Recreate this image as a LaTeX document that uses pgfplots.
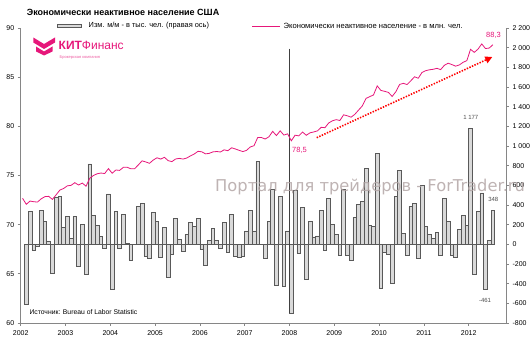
\documentclass[border=0pt]{standalone}
\usepackage{pgfplots}
\usepackage{pgfplotstable}
\pgfplotsset{compat=1.18}
\usepackage{fontspec}
\setmainfont{Liberation Sans}
\newfontfamily\wmfont{DejaVu Sans}
\usetikzlibrary{arrows.meta}
\definecolor{pinkline}{HTML}{E6177A}
\definecolor{barfill}{HTML}{D9D9D9}
\definecolor{baredge}{HTML}{595959}
\definecolor{axgray}{HTML}{868686}
\definecolor{wm}{HTML}{B3A6A6}

\pgfplotstableread{
m v
1 -610
2 336
3 -58
4 -20
5 346
6 234
7 34
8 -295
9 478
10 488
11 173
12 281
13 61
14 281
15 -224
16 203
17 -305
18 817
19 295
20 193
21 81
22 -41
23 512
24 -458
25 336
26 -41
27 305
28 5
29 -159
30 -5
31 386
32 420
33 -119
34 -142
35 325
36 234
37 -136
38 173
39 -336
40 -102
41 264
42 54
43 -71
44 102
45 224
46 183
47 264
48 -51
49 -214
50 44
51 163
52 44
53 -41
54 227
55 -81
56 305
57 -119
58 -132
59 -119
60 136
61 346
62 136
63 844
64 0
65 -142
66 234
67 556
68 -417
69 488
70 -427
71 136
72 -702
73 549
74 -92
75 376
76 -356
77 234
78 75
79 85
80 346
81 -61
82 468
83 203
84 102
85 -112
86 559
87 -112
88 -163
89 275
90 410
91 437
92 773
93 193
94 183
95 925
96 -447
97 -81
98 -102
99 -397
100 488
101 749
102 112
103 -112
104 386
105 417
106 -142
107 600
108 183
109 102
110 61
111 125
112 -112
113 468
114 234
115 -112
116 -136
117 153
118 295
119 193
120 1177
121 -305
122 336
123 522
124 -461
125 40
126 348
}\bars

\pgfplotstableread{
m v
0 72.68
1 72.07
2 72.40
3 72.33
4 72.30
5 72.63
6 72.85
7 72.88
8 72.57
9 73.04
10 73.52
11 73.68
12 73.95
13 74.00
14 74.27
15 74.03
16 74.23
17 73.91
18 74.72
19 75.00
20 75.18
21 75.25
22 75.20
23 75.70
24 75.23
25 75.56
26 75.52
27 75.83
28 75.84
29 75.68
30 75.68
31 76.07
32 76.49
33 76.38
34 76.24
35 76.57
36 76.80
37 76.67
38 76.85
39 76.51
40 76.41
41 76.68
42 76.74
43 76.67
44 76.78
45 77.00
46 77.19
47 77.46
48 77.41
49 77.20
50 77.25
51 77.40
52 77.44
53 77.39
54 77.61
55 77.52
56 77.82
57 77.70
58 77.56
59 77.43
60 77.56
61 77.90
62 78.03
63 78.87
64 78.86
65 78.71
66 78.94
67 79.49
68 79.06
69 79.54
70 79.11
71 79.24
72 78.53
73 79.10
74 79.03
75 79.42
76 79.09
77 79.34
78 79.43
79 79.54
80 79.90
81 79.86
82 80.34
83 80.56
84 80.68
85 80.59
86 81.17
87 81.07
88 80.93
89 81.22
90 81.65
91 82.07
92 82.84
93 83.02
94 83.19
95 84.11
96 83.65
97 83.56
98 83.45
99 83.04
100 83.52
101 84.26
102 84.37
103 84.25
104 84.63
105 85.04
106 84.89
107 85.48
108 85.66
109 85.75
110 85.80
111 85.90
112 85.77
113 86.21
114 86.42
115 86.28
116 86.12
117 86.24
118 86.51
119 86.68
120 87.83
121 87.52
122 87.85
123 88.38
124 87.91
125 87.96
126 88.30
}\nilf

\begin{document}
\begin{tikzpicture}[x=1pt,y=1pt]
\path[use as bounding box] (0,0) rectangle (532,352);
\pgfplotsset{
  common/.style={
    at={(20.7pt,29pt)}, anchor=south west, scale only axis,
    width=485.3pt, height=295pt,
    xmin=-0.5, xmax=129.5,
    tick align=outside, major tick length=3pt,
    axis line style={axgray, line width=0.8pt},
    tick style={axgray, line width=0.7pt},
    ticklabel style={font=\fontsize{7}{8}\selectfont, text=black},
    /pgf/number format/assume math mode=true,
  }
}
% right axis: bars
\begin{axis}[common,
  ymin=-800, ymax=2200,
  axis x line=none, axis y line*=right,
  ytick={-800,-600,-400,-200,0,200,400,600,800,1000,1200,1400,1600,1800,2000,2200},
  yticklabels={-800,-600,-400,-200,0,200,400,600,800,1 000,1 200,1 400,1 600,1 800,2 000,2 200},
  clip=false]
  \addplot[ybar, bar width=1, bar shift=0pt, fill=barfill, draw=baredge, line width=0.7pt] table[x=m,y=v]{\bars};
  \draw[baredge, line width=0.8pt] (axis cs:0.5,0) -- (axis cs:126.5,0);
  \draw[black!75, line width=0.7pt] (axis cs:71.5,1990) -- (axis cs:71.5,-700);
\end{axis}
% left axis: line
\begin{axis}[common,
  ymin=60, ymax=90,
  axis x line*=bottom, axis y line*=left,
  ytick={60,65,70,75,80,85,90},
  xtick={-0.5,11.5,23.5,35.5,47.5,59.5,71.5,83.5,95.5,107.5,119.5},
  xticklabels={2002,2003,2004,2005,2006,2007,2008,2009,2010,2011,2012},
  xticklabel style={yshift=-1pt}]
  \addplot[pinkline, line width=0.8pt] table[x=m,y=v]{\nilf};
\end{axis}
% title
\node[anchor=west, font=\bfseries\fontsize{9}{10}\selectfont, inner sep=0pt] at (26.7,339.5) {Экономически неактивное население США};
% legend
\draw[baredge, fill=barfill, line width=0.6pt] (57.3,324.2) rectangle (81.7,328.0);
\node[anchor=west, font=\fontsize{7.4}{8}\selectfont, inner sep=0pt] at (88.5,326) {Изм. м/м - в тыс. чел. (правая ось)};
\draw[pinkline, line width=0.8pt] (252,326) -- (280,326);
\node[anchor=west, font=\fontsize{7.6}{8}\selectfont, inner sep=0pt] at (283.5,326) {Экономически неактивное население - в млн. чел.};
% logo
\fill[pinkline] (33.3,314.5) -- (44,308) -- (55,314.5) -- (55,309.5) -- (44,303) -- (33.3,309.5) -- cycle;
\fill[pinkline] (36,305.5) -- (44,300.5) -- (52.5,305.5) -- (52.5,300.5) -- (44,296.5) -- (36,300.5) -- cycle;
\node[anchor=west, text=pinkline, font=\fontsize{12}{13}\selectfont, inner sep=0pt] at (58.5,306.5) {\textbf{КИТ}Финанс};
\node[anchor=west, text=pinkline!70, font=\fontsize{4}{5}\selectfont, inner sep=0pt] at (59.5,294.8) {Брокерская компания};
% source
\node[anchor=west, font=\fontsize{6.8}{8}\selectfont, inner sep=0pt] at (29.3,40) {Источник: Bureau of Labor Statistic};
% value labels
\node[text=pinkline, font=\fontsize{7.5}{8}\selectfont, inner sep=0pt] at (493.5,317) {88,3};
\node[text=pinkline, font=\fontsize{7.5}{8}\selectfont, inner sep=0pt] at (299.5,202) {78,5};
\node[text=black!70, font=\fontsize{6}{7}\selectfont, inner sep=0pt] at (470.8,234.7) {1 177};
\node[text=black!70, font=\fontsize{6}{7}\selectfont, inner sep=0pt] at (493.3,152.7) {348};
\node[text=black!70, font=\fontsize{6}{7}\selectfont, inner sep=0pt] at (485,52) {-461};
% trend arrow
\draw[red, line width=1.6pt, dash pattern=on 1.4pt off 1.4pt, -{Triangle[length=7pt,width=7pt]}] (316.7,214.3) -- (492.3,295);
% watermark
\node[anchor=west, text=wm, opacity=0.85, font=\wmfont\fontsize{16.3}{17}\selectfont, inner sep=0pt] at (215,165) {Портал для трейдеров - ForTrader.ru};
\end{tikzpicture}
\end{document}
